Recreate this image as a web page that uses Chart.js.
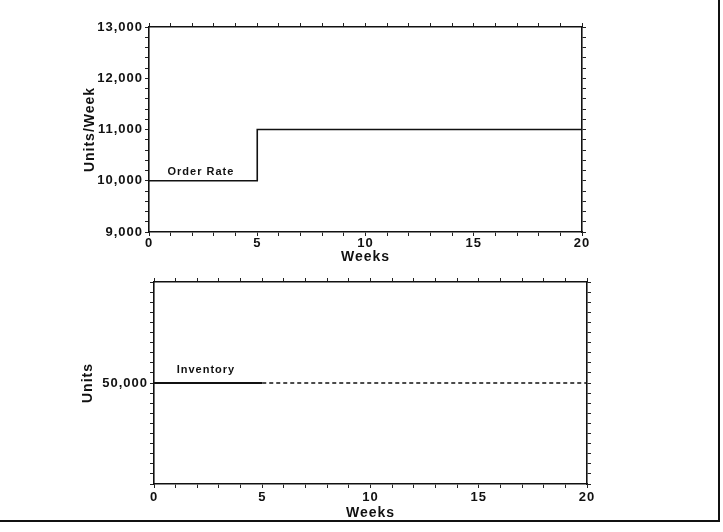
<!DOCTYPE html>
<html>
<head>
<meta charset="utf-8">
<script src="https://cdn.jsdelivr.net/npm/chart.js@4.4.1/dist/chart.umd.min.js"></script>
<style>
  body { margin: 0; background: #fff; }
  #page { position: relative; width: 723px; height: 532px; }
  canvas { position: absolute; left: 0; }
  #top { top: 0; }
  #bottom { top: 266px; }
  .rule { position: absolute; background: #111; }
</style>
</head>
<body>
<div id="page">
  <canvas id="top" width="723" height="266"></canvas>
  <canvas id="bottom" width="723" height="266"></canvas>
  <div class="rule" style="left:718px; top:0; width:2px; height:522px"></div>
  <div class="rule" style="left:0; top:520px; width:720px; height:2px"></div>
</div>
<script>
// data
const weeks = [0, 5, 20];
const orderRate = [10000, 11000, 11000];
const inventory = [50000, 50000, 50000];

// which ticks carry a label
const weekLabels = [0, 5, 10, 15, 20];
const rateLabels = [9000, 10000, 11000, 12000, 13000];
const unitLabels = [50000];

const FONT = "'Liberation Sans', Arial, Helvetica, sans-serif";
Chart.defaults.font.family = FONT;
Chart.defaults.color = '#111';

function axis(position, min, max, step, labelled, fit, extra, pad) {
    return Object.assign({
        type: 'linear',
        position: position,
        min: min,
        max: max,
        grid: { drawOnChartArea: false, drawTicks: true, tickLength: 4, color: '#222', lineWidth: 1 },
        border: { display: true, color: '#111', width: 1.6 },
        ticks: {
            stepSize: step,
            autoSkip: false,
            maxRotation: 0,
            padding: pad === undefined ? 2 : pad,
            font: { size: 13, weight: 'bold' },
            callback: v => labelled.includes(v) ? v.toLocaleString('en-US') : ''
        },
        afterFit: s => {
            if (s.isHorizontal()) s.height = fit; else s.width = fit;
        }
    }, extra);
}

function title(text, padding) {
    return { display: true, text: text, font: { size: 14, weight: 'bold' }, padding: padding };
}

// spaced-out lettering like the original print
const spacing = {
    id: 'spacing',
    beforeDraw(chart) { chart.ctx.letterSpacing = '1px'; }
};

const seriesLabel = {
    id: 'seriesLabel',
    afterDatasetsDraw(chart, args, opts) {
        const ctx = chart.ctx;
        ctx.save();
        ctx.font = 'bold 11px ' + FONT;
        ctx.fillStyle = '#111';
        ctx.textAlign = 'center';
        ctx.textBaseline = 'middle';
        ctx.fillText(chart.data.datasets[0].label,
            chart.scales.x.getPixelForValue(opts.x),
            chart.scales.y.getPixelForValue(opts.y));
        ctx.restore();
    }
};

new Chart(document.getElementById('top').getContext('2d'), {
    type: 'line',
    data: {
        datasets: [{
            label: 'Order Rate',
            data: weeks.map((w, i) => ({ x: w, y: orderRate[i] })),
            stepped: true,
            borderColor: '#111',
            borderWidth: 1.6,
            pointRadius: 0,
            fill: false
        }]
    },
    options: {
        responsive: false,
        animation: false,
        events: [],
        plugins: {
            legend: { display: false },
            tooltip: { enabled: false },
            seriesLabel: { x: 2.4, y: 10170 }
        },
        scales: {
            x: axis('bottom', 0, 20, 1, weekLabels, 34, { title: title('Weeks', { top: 0, bottom: 0 }) }, 0),
            xTop: axis('top', 0, 20, 1, [], 27, { axis: 'x' }),
            y: axis('left', 9000, 13000, 200, rateLabels, 149, { title: title('Units/Week', { top: 82, bottom: 0 }) }),
            yRight: axis('right', 9000, 13000, 200, [], 141, { axis: 'y' })
        }
    },
    plugins: [spacing, seriesLabel]
});

new Chart(document.getElementById('bottom').getContext('2d'), {
    type: 'line',
    data: {
        datasets: [{
            label: 'Inventory',
            data: weeks.map((w, i) => ({ x: w, y: inventory[i] })),
            borderColor: '#111',
            borderWidth: 2,
            pointRadius: 0,
            fill: false,
            segment: {
                borderDash: c => c.p0DataIndex >= 1 ? [4, 3] : undefined,
                borderWidth: c => c.p0DataIndex >= 1 ? 1.4 : 2
            }
        }]
    },
    options: {
        responsive: false,
        animation: false,
        events: [],
        plugins: {
            legend: { display: false },
            tooltip: { enabled: false },
            seriesLabel: { x: 2.4, y: 51300 }
        },
        scales: {
            x: axis('bottom', 0, 20, 1, weekLabels, 48, { title: title('Weeks', { top: 0, bottom: 10 }) }, 2),
            xTop: axis('top', 0, 20, 1, [], 16, { axis: 'x' }),
            y: axis('left', 40000, 60000, 1000, unitLabels, 154, { title: title('Units', { top: 80, bottom: 0 }) }),
            yRight: axis('right', 40000, 60000, 1000, [], 136, { axis: 'y' })
        }
    },
    plugins: [spacing, seriesLabel]
});
</script>
</body>
</html>
